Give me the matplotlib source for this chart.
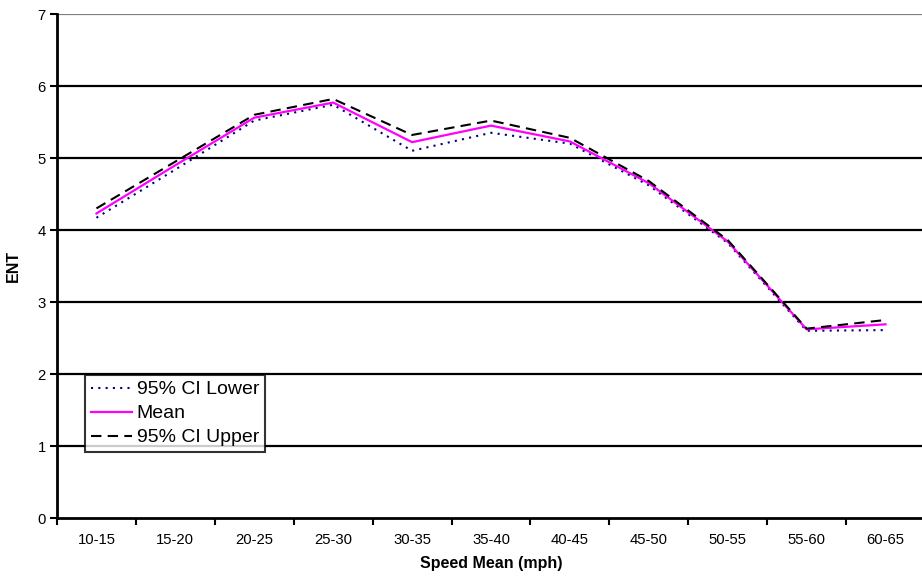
import matplotlib
matplotlib.use("Agg")
import matplotlib.pyplot as plt
import numpy as np

plt.rcParams['font.family'] = ['Liberation Sans', 'DejaVu Sans']

categories = ["10-15", "15-20", "20-25", "25-30", "30-35", "35-40",
              "40-45", "45-50", "50-55", "55-60", "60-65"]
ci_lower = [4.17, 4.84, 5.52, 5.74, 5.10, 5.35, 5.20, 4.62, 3.82, 2.60, 2.61]
mean_vals = [4.23, 4.90, 5.56, 5.77, 5.22, 5.45, 5.23, 4.65, 3.84, 2.62, 2.69]
ci_upper = [4.30, 4.95, 5.60, 5.82, 5.32, 5.52, 5.28, 4.68, 3.86, 2.63, 2.75]

fig = plt.figure(figsize=(9.22, 5.81), dpi=100)
W, H = 922, 581
ax = fig.add_axes([57 / W, 1 - 518 / H, (925 - 57) / W, (518 - 14) / H])

x = np.arange(len(categories))
ax.plot(x, ci_lower, color='#000080', linestyle=(0, (1, 2.5)), linewidth=1.5,
        label='95% CI Lower')
ax.plot(x, mean_vals, color='#FF00FF', linestyle='-', linewidth=1.6, label='Mean')
ax.plot(x, ci_upper, color='black', linestyle=(0, (5, 3)), linewidth=1.5,
        label='95% CI Upper')

ax.set_xlim(-0.5, len(categories) - 0.5)
ax.set_ylim(0, 7)
ax.set_yticks(range(0, 8))
for v in range(1, 7):
    ax.axhline(v, color='black', linewidth=1.6, zorder=0)
ax.axhline(7, color='#808080', linewidth=1.6, zorder=0)

ax.set_xticks(x)
ax.set_xticklabels(categories, fontsize=10.7)
ax.set_xticks(np.arange(-0.5, len(categories), 1), minor=True)
ax.tick_params(axis='x', which='major', length=0, pad=11)
ax.tick_params(axis='x', which='minor', length=5, width=1.5, direction='out')
ax.tick_params(axis='y', length=5, width=1.5, direction='out', labelsize=10.7, pad=3)

for s in ['top', 'right']:
    ax.spines[s].set_visible(False)
ax.spines['left'].set_linewidth(2)
ax.spines['bottom'].set_linewidth(2)

ax.set_xlabel('Speed Mean (mph)', fontsize=11.5, fontweight='bold', labelpad=6)
ax.set_ylabel('ENT', fontsize=11.5, fontweight='bold', labelpad=12)

leg = ax.legend(loc='upper left', bbox_to_anchor=(28 / 868, 1 - (375 - 14) / 504),
                fontsize=14, frameon=True, fancybox=False, edgecolor='black',
                borderpad=0.3, labelspacing=0.33, handlelength=2.1, handletextpad=0.25,
                borderaxespad=0)
leg.get_frame().set_linewidth(1.5)

fig.savefig('out.png', dpi=100)
